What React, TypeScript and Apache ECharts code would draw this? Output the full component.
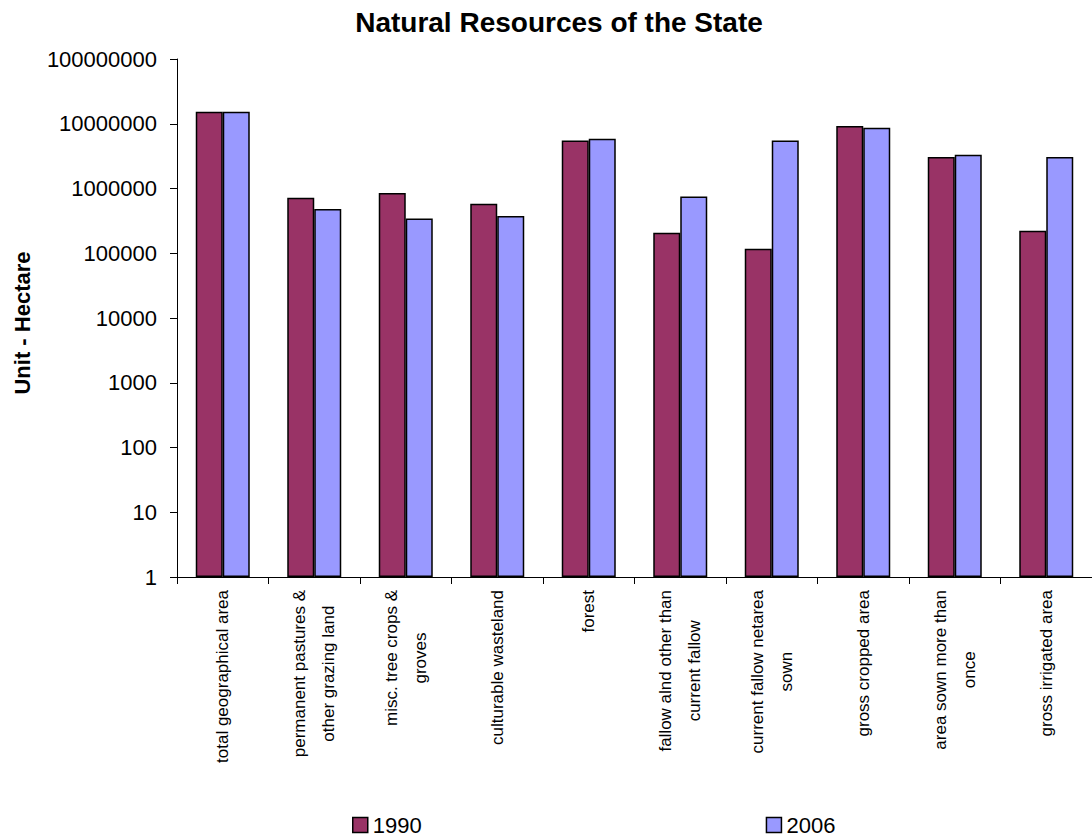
import React, { useEffect, useRef } from "react";
import * as echarts from "echarts";

const categories = [
  "total geographical area",
  "permanent pastures &\nother grazing land",
  "misc. tree crops &\ngroves",
  "culturable wasteland",
  "forest",
  "fallow alnd other than\ncurrent fallow",
  "current fallow netarea\nsown",
  "gross cropped area",
  "area sown more than\nonce",
  "gross irrigated area",
];
const values1990 = [15300000, 721000, 852000, 582000, 5530000, 207000, 117000, 9230000, 3060000, 223000];
const values2006 = [15300000, 482000, 345000, 376000, 5870000, 755000, 5530000, 8690000, 3330000, 3060000];
const seriesNames = ["1990", "2006"];
const titleText = "Natural Resources of the State";
const yAxisTitle = "Unit - Hectare";

const FONT = "'Liberation Sans', Arial, sans-serif";

export default function App() {
  const ref = useRef<HTMLDivElement>(null);
  useEffect(() => {
    if (!ref.current) return;
    const chart = echarts.init(ref.current, undefined, { renderer: "svg" });
    chart.setOption({
      animation: false,
      backgroundColor: "#ffffff",
      textStyle: { fontFamily: FONT },
      title: {
        text: titleText,
        left: 554,
        top: 3,
        textAlign: "center",
        textStyle: { fontFamily: FONT, fontSize: 28, fontWeight: "bold", color: "#000" },
      },
      legend: {
        data: seriesNames,
        left: 347,
        top: 808,
        itemWidth: 15,
        itemHeight: 15,
        itemGap: 344,
        itemStyle: { borderColor: "#000", borderWidth: 1.5 },
        icon: "rect",
        textStyle: { fontFamily: FONT, fontSize: 22, lineHeight: 24, color: "#000" },
      },
      grid: { left: 177, top: 59, width: 920, height: 518, containLabel: false },
      graphic: [
        {
          type: "text",
          x: 22,
          y: 323,
          rotation: Math.PI / 2,
          style: {
            text: yAxisTitle,
            align: "center",
            verticalAlign: "middle",
            fontFamily: FONT,
            fontSize: 22,
            fontWeight: "bold",
            fill: "#000",
          },
        },
      ],
      xAxis: {
        type: "category",
        data: categories,
        axisLine: { lineStyle: { color: "#000", width: 1 } },
        axisTick: { show: true, length: 7, lineStyle: { color: "#000" } },
        axisLabel: {
          interval: 0,
          rotate: 90,
          margin: 13,
          formatter: (v: string) => v.split("\n").map((l) => `{c|${l}}`).join("\n"),
          rich: {
            c: { align: "center", fontSize: 17, lineHeight: 29, fontFamily: FONT, color: "#000" },
          },
        },
      },
      yAxis: {
        type: "log",
        logBase: 10,
        min: 1,
        max: 100000000,
        axisLine: { show: true, lineStyle: { color: "#000", width: 1 } },
        axisTick: { show: true, length: 7, lineStyle: { color: "#000" } },
        splitLine: { show: false },
        axisLabel: {
          margin: 20,
          fontFamily: FONT,
          fontSize: 22,
          color: "#000",
          formatter: (v: number) => String(Math.round(v)),
        },
      },
      series: [
        {
          name: seriesNames[0],
          type: "bar",
          data: values1990,
          barWidth: 27,
          barGap: "0%",
          itemStyle: { color: "#993366", borderColor: "#000", borderWidth: 1.5 },
        },
        {
          name: seriesNames[1],
          type: "bar",
          data: values2006,
          barWidth: 27,
          barGap: "0%",
          itemStyle: { color: "#9999FF", borderColor: "#000", borderWidth: 1.5 },
        },
      ],
    });
    return () => chart.dispose();
  }, []);
  return (
    <div
      ref={ref}
      style={{ position: "absolute", left: 0, top: 0, width: 1092, height: 838 }}
    />
  );
}
